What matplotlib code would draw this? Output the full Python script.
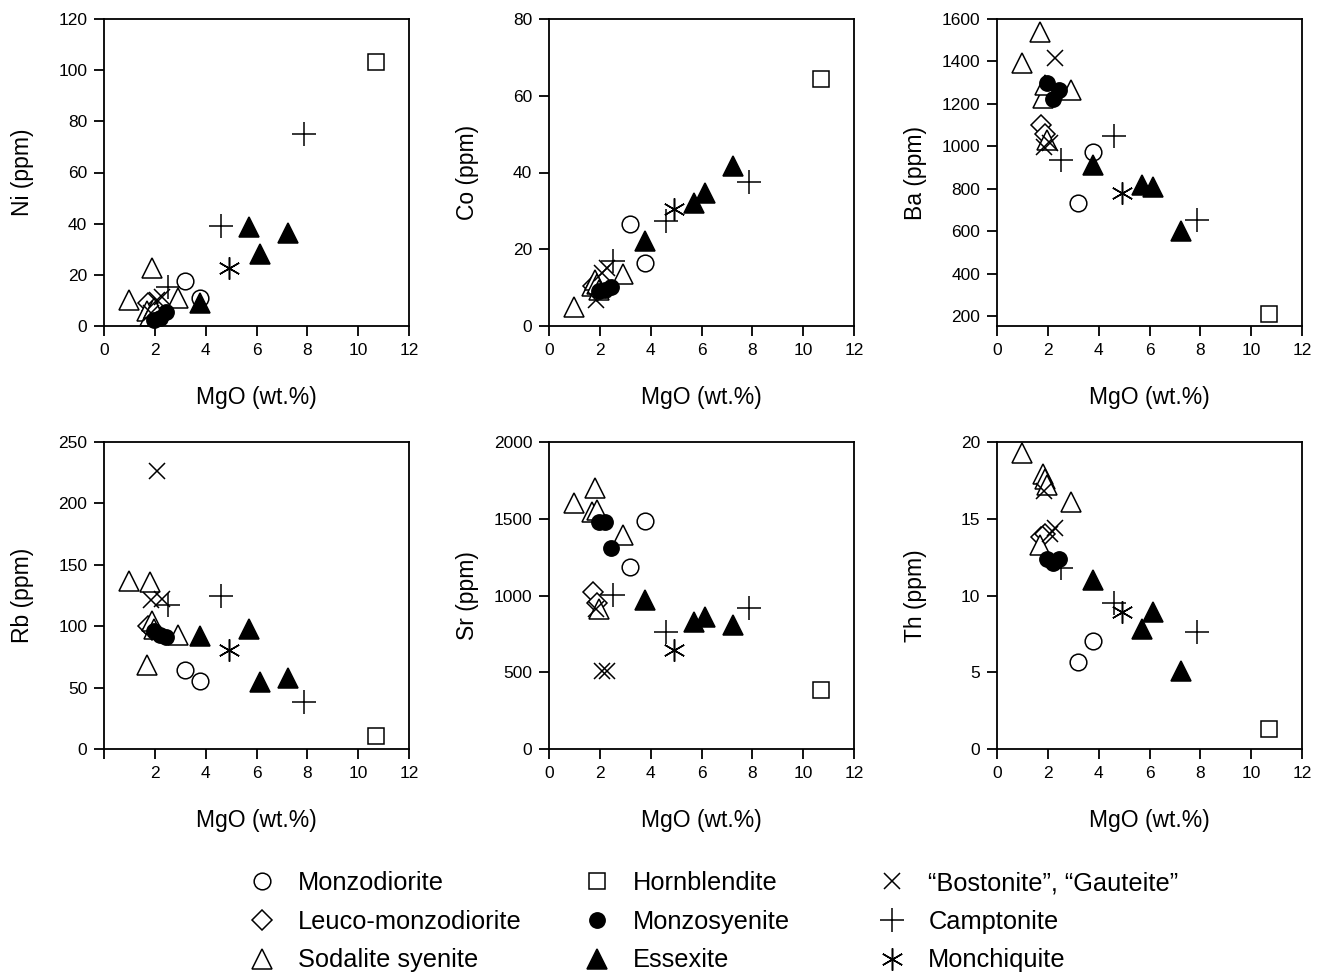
import matplotlib
matplotlib.use('Agg')
import matplotlib.pyplot as plt

plt.rcParams['font.family'] = ['Liberation Sans', 'DejaVu Sans']

BG = '\u201cBostonite\u201d, \u201cGauteite\u201d'

# one entry per sample
ROCK = ['Monzodiorite', 'Monzodiorite',
        'Leuco-monzodiorite', 'Leuco-monzodiorite',
        'Sodalite syenite', 'Sodalite syenite', 'Sodalite syenite',
        'Sodalite syenite', 'Sodalite syenite', 'Sodalite syenite',
        'Hornblendite',
        'Monzosyenite', 'Monzosyenite', 'Monzosyenite',
        'Essexite', 'Essexite', 'Essexite', 'Essexite',
        BG, BG, BG,
        'Camptonite', 'Camptonite', 'Camptonite',
        'Monchiquite']
MGO = [3.2, 3.78,
       1.75, 1.9,
       1.0, 1.7, 1.8, 1.9, 1.95, 2.9,
       10.7,
       1.95, 2.2, 2.45,
       3.78, 5.72, 6.12, 7.25,
       1.85, 2.1, 2.3,
       2.5, 4.6, 7.85,
       4.9]
NI = [17.7, 11.0,
      9, 6,
      10, 6, 4, 22.5, 7, 11,
      103,
      2.5, 3, 5.5,
      9, 38.6, 28.1, 36.5,
      5, 10, 11.5,
      15.4, 39.2, 75,
      22.7]
CO = [26.6, 16.5,
      10.5, 9,
      5, 10.5, 12, 11, 9.5, 13.5,
      64.3,
      9, 9.5, 10.2,
      22.2, 32, 34.7, 41.7,
      6.8, 13.9, 15,
      16.9, 27.4, 37.4,
      30.6]
BA = [734, 974,
      1100, 1060,
      1395, 1540, 1230, 1290, 1030, 1265,
      210,
      1300, 1225, 1265,
      912, 817, 808, 600,
      998, 1018, 1415,
      935, 1048, 656,
      781]
RB = [64, 55,
      100, 97,
      137, 68, 136, 104, 98, 93,
      10.5,
      96, 93, 91,
      92, 98, 54.6, 57.8,
      121, 226, 122,
      117, 125, 38,
      81]
SR = [1184, 1487,
      1025, 950,
      1605, 1545, 1700, 1560, 910, 1395,
      385,
      1480, 1480, 1310,
      971, 829, 858, 808,
      915, 505, 505,
      1003, 760, 919,
      645]
TH = [5.7, 7.05,
      13.8, 14.0,
      19.3, 13.3, 17.9, 17.6, 17.2, 16.1,
      1.3,
      12.4, 12.1, 12.35,
      11.0, 7.85, 8.95, 5.1,
      16.8, 14.0, 14.4,
      11.8, 9.5, 7.6,
      8.9]

PANEL_NAMES = ['Ni', 'Co', 'Ba', 'Rb', 'Sr', 'Th']
PANEL_VALUES = [NI, CO, BA, RB, SR, TH]
Y_LIMITS = [(0, 120), (0, 80), (155, 1600), (0, 250), (0, 2000), (0, 20)]
Y_TICKS = [range(0, 121, 20), range(0, 81, 20), range(200, 1601, 200),
           range(0, 251, 50), range(0, 2001, 500), range(0, 21, 5)]

LEGEND_COLUMNS = [['Monzodiorite', 'Leuco-monzodiorite', 'Sodalite syenite'],
                  ['Hornblendite', 'Monzosyenite', 'Essexite'],
                  [BG, 'Camptonite', 'Monchiquite']]

# marker, size, filled
STYLE = {
    'Monzodiorite': ('o', 12, False),
    'Leuco-monzodiorite': ('D', 10, False),
    'Sodalite syenite': ('^', 14, False),
    'Hornblendite': ('s', 11, False),
    'Monzosyenite': ('o', 11, True),
    'Essexite': ('^', 14, True),
    BG: ('x', 12, False),
    'Camptonite': ('+', 17, False),
    'Monchiquite': ((6, 2, 0), 16, False),
}

fig = plt.figure(figsize=(13.27, 9.76), dpi=100)

W, H = 1327.0, 976.0
lefts = [104, 549, 997]
tops = [19, 442]

handles = {}
for i, (name, values) in enumerate(zip(PANEL_NAMES, PANEL_VALUES)):
    row, col = divmod(i, 3)
    left = lefts[col] / W
    bottom = (H - tops[row] - 307) / H
    ax = fig.add_axes([left, bottom, 305 / W, 307 / H])

    for column in LEGEND_COLUMNS:
        for rock in column:
            xs = [m for m, r in zip(MGO, ROCK) if r == rock]
            ys = [v for v, r in zip(values, ROCK) if r == rock]
            marker, size, filled = STYLE[rock]
            line, = ax.plot(xs, ys, linestyle='none', marker=marker, markersize=size,
                            markerfacecolor='black' if filled else 'white',
                            markeredgecolor='black', markeredgewidth=1.1,
                            label=rock, clip_on=False)
            handles[rock] = line

    ax.set_xlim(0, 12)
    ax.set_ylim(*Y_LIMITS[i])
    ax.set_xticks(range(0, 13, 2))
    if name == 'Rb':
        ax.set_xticklabels([''] + [str(t) for t in range(2, 13, 2)])
    ax.set_yticks(list(Y_TICKS[i]))
    ax.tick_params(direction='out', length=7, width=1.3, labelsize=12.5, pad=5)
    for spine in ax.spines.values():
        spine.set_linewidth(1.3)

    ax.set_xlabel('MgO (wt.%)', fontsize=16.5)
    ax.set_ylabel('%s (ppm)' % name, fontsize=16.5)
    ax.xaxis.set_label_coords(0.5, -0.195)
    ax.yaxis.set_label_coords(-0.228, 0.5)

# three separate legend columns
for column, x0 in zip(LEGEND_COLUMNS, [247, 582, 877]):
    fig.legend([handles[r] for r in column], column, loc='upper left',
               bbox_to_anchor=(x0 / W, 1 - 871 / H), frameon=False,
               fontsize=18.3, borderpad=0, borderaxespad=0,
               handlelength=1.2, handletextpad=0.82, labelspacing=0.58)

fig.savefig('out.png', dpi=100)
